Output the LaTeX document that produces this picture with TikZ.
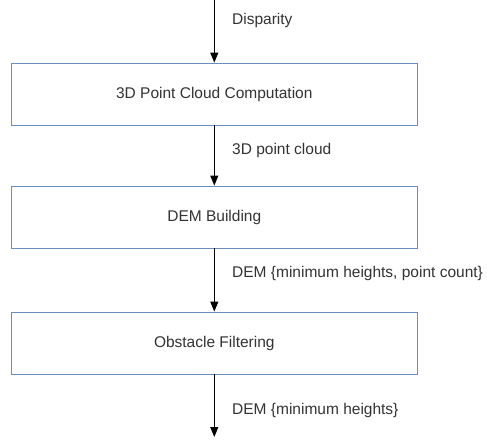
\documentclass[tikz,border=0pt]{standalone}
\usepackage{fontspec}
\setmainfont{Liberation Sans}
\usetikzlibrary{arrows.meta}
\definecolor{boxline}{HTML}{6C8EBF}
\definecolor{ink}{HTML}{333333}
\tikzset{
  stage/.style={draw=boxline, line width=0.9pt, fill=white, minimum width=406pt, minimum height=62pt, inner sep=0pt, text=ink, font=\fontsize{15.5}{18}\selectfont},
  flow/.style={draw=black, line width=0.9pt, -{Triangle[length=10pt,width=8pt]}},
  tag/.style={anchor=west, inner sep=0pt, text=ink, font=\fontsize{15.5}{18}\selectfont}
}
\begin{document}
\begin{tikzpicture}[x=1pt,y=-1pt]
  \useasboundingbox (0,0) rectangle (487,439);
  \coordinate (in) at (214.3,0);
  \coordinate (out) at (214.3,437);
  \node[stage] (pc) at (214.3,94) {3D Point Cloud Computation};
  \node[stage] (dem) at (214.3,217) {DEM Building};
  \node[stage] (obs) at (214.3,343) {Obstacle Filtering};
  \draw[flow] (in) -- (pc.north);
  \draw[flow] (pc.south) -- (dem.north);
  \draw[flow] (dem.south) -- (obs.north);
  \draw[flow] (obs.south) -- (out);
  \node[tag] (l1) at (232,20) {Disparity};
  \node[tag] (l2) at (232,150) {3D point cloud};
  \node[tag] (l3) at (232,273) {DEM \{minimum heights, point count\}};
  \node[tag] (l4) at (232,410) {DEM \{minimum heights\}};
\end{tikzpicture}
\end{document}
